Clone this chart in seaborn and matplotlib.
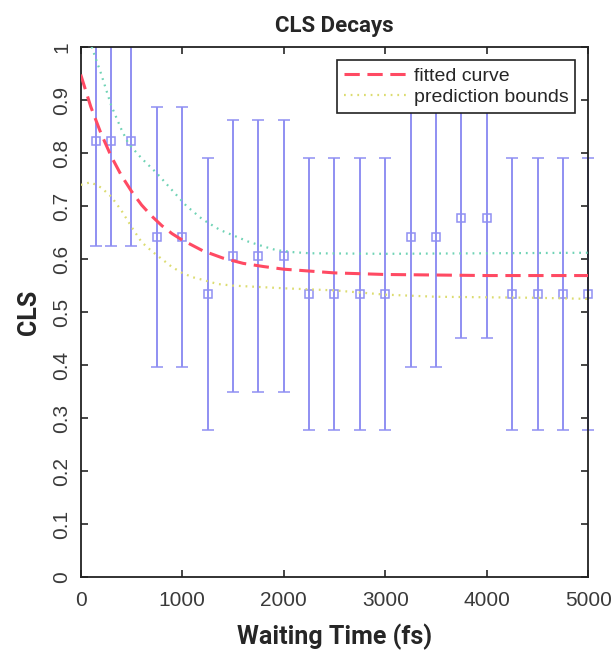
import numpy as np
import pandas as pd
import seaborn as sns
import matplotlib as mpl
from matplotlib import pyplot as plt
from matplotlib.patches import Rectangle

sns.set_style("ticks")
plt.rcParams['font.family'] = ["Liberation Sans", "DejaVu Sans"]

BLUE = "#8F8FF2"
RED = "#FF4A63"
GREEN = "#6FD3B5"
YELLOW = "#DCDC70"

# measured CLS points
wait_time = [150, 300, 500, 750, 1000, 1250, 1500, 1750, 2000, 2250, 2500,
             2750, 3000, 3250, 3500, 3750, 4000, 4250, 4500, 4750, 5000]
cls_value = [0.822, 0.822, 0.822, 0.641, 0.641, 0.534, 0.606, 0.606, 0.606,
             0.534, 0.534, 0.534, 0.534, 0.642, 0.642, 0.677, 0.677,
             0.534, 0.534, 0.534, 0.534]
cls_error = [0.198, 0.198, 0.198, 0.245, 0.245, 0.256, 0.257, 0.257, 0.257,
             0.256, 0.256, 0.256, 0.256, 0.245, 0.245, 0.226, 0.226,
             0.256, 0.256, 0.256, 0.256]

# fitted curve
fit_x = [0, 100, 200, 300, 400, 500, 600, 700, 800, 900, 1000, 1200, 1400,
         1600, 1800, 2000, 2500, 3000, 3500, 4000, 4500, 5000]
fit_y = [0.948, 0.887, 0.837, 0.794, 0.758, 0.728, 0.702, 0.681, 0.663,
         0.648, 0.636, 0.616, 0.602, 0.592, 0.586, 0.581, 0.574, 0.571,
         0.570, 0.569, 0.569, 0.569]

# prediction bounds
upper_x = [0, 100, 158, 200, 300, 400, 470, 600, 750, 900, 1043, 1200, 1372,
           1500, 1651, 1800, 1925, 2100, 2260, 3000, 4000, 5000]
upper_y = [1.06, 1.005, 0.973, 0.950, 0.890, 0.845, 0.818, 0.790, 0.762,
           0.730, 0.700, 0.675, 0.655, 0.645, 0.633, 0.624, 0.617, 0.613,
           0.611, 0.610, 0.611, 0.612]
lower_x = [0, 100, 200, 300, 400, 500, 600, 700, 800, 900, 1000, 1100, 1200,
           1350, 1500, 2000, 2500, 3000, 3500, 4000, 4500, 5000]
lower_y = [0.740, 0.745, 0.735, 0.718, 0.692, 0.661, 0.632, 0.615, 0.600,
           0.585, 0.574, 0.566, 0.561, 0.553, 0.550, 0.545, 0.541, 0.533,
           0.529, 0.528, 0.527, 0.525]

fig = plt.figure(figsize=(6.16, 6.53), dpi=100)
ax = fig.add_axes([0.131, 0.116, 0.824, 0.812])

# error bars, allowed to spill a little past the right edge like the original
clip = Rectangle((0, 0), 1.05, 1, transform=ax.transAxes, facecolor="none")
eb = ax.errorbar(wait_time, cls_value, yerr=cls_error, fmt="s", ms=6,
                 mfc="none", mec=BLUE, mew=1.1, ecolor=BLUE, elinewidth=1.4,
                 capsize=4, capthick=1.3, zorder=2)
for art in [eb.lines[0], *eb.lines[1], *eb.lines[2]]:
    art.set_clip_path(clip)

dots = (0, (0.8, 2.2))
curves = pd.DataFrame({"x": fit_x, "y": fit_y})
sns.lineplot(data=curves, x="x", y="y", ax=ax, color=RED, lw=2.2,
             linestyle=(0, (5, 2.5)), label="fitted curve", zorder=3)
sns.lineplot(x=lower_x, y=lower_y, ax=ax, color=YELLOW, lw=1.6,
             linestyle=dots, label="prediction bounds", zorder=3)
sns.lineplot(x=upper_x, y=upper_y, ax=ax, color=GREEN, lw=1.6,
             linestyle=dots, zorder=3)

ax.set_xlim(0, 5000)
ax.set_ylim(0, 1)
ax.set_xticks(np.arange(0, 5001, 1000))
ax.set_yticks(np.round(np.arange(0, 1.01, 0.1), 1))
ax.set_yticklabels(["0", "0.1", "0.2", "0.3", "0.4", "0.5", "0.6", "0.7",
                    "0.8", "0.9", "1"], rotation=90, va="center")
ax.tick_params(direction="in", length=5, width=1.2, top=True, right=True,
               labelsize=15, labelcolor="#3a3a3a")
ax.tick_params(axis="x", pad=10)
ax.tick_params(axis="y", pad=7)
for sp in ax.spines.values():
    sp.set_visible(True)
    sp.set_linewidth(1.3)
    sp.set_color("#222222")

bold = ["Roboto", "DejaVu Sans"]
ax.set_title("CLS Decays", fontsize=16, fontweight="bold", family=bold, pad=11)
ax.set_xlabel("Waiting Time (fs)", fontsize=18, fontweight="bold",
              family=bold, labelpad=10)
ax.set_ylabel("CLS", fontsize=18, fontweight="bold", family=bold, labelpad=8)

leg = ax.legend(loc="upper right", bbox_to_anchor=(0.974, 0.975), fontsize=14,
                frameon=True, fancybox=False, framealpha=1, edgecolor="#222222",
                handlelength=3.3, handletextpad=0.3, borderpad=0.35,
                labelspacing=0.2, borderaxespad=0)
leg.get_frame().set_linewidth(1.2)
leg.set_zorder(5)

plt.savefig("out.png", dpi=100)
